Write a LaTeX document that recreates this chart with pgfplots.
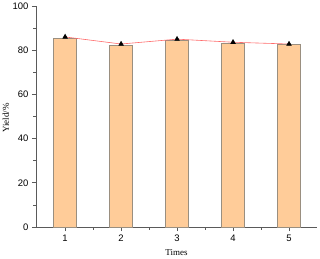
\documentclass[border=0pt]{standalone}
\usepackage{fontspec}
\setmainfont{Liberation Serif}
\setsansfont{Liberation Sans}
\usepackage{pgfplots}
\pgfplotsset{compat=1.18}
\definecolor{barfill}{HTML}{FFCC99}
\definecolor{baredge}{HTML}{9A8F80}
\definecolor{linered}{HTML}{FF6A6A}
\definecolor{spine}{HTML}{5A5A5A}
\begin{document}
\begin{tikzpicture}
\path[use as bounding box] (-36bp,-32bp) rectangle (284bp,227bp);
\begin{axis}[
  at={(0,0)}, anchor=south west,
  scale only axis, width=281bp, height=221bp,
  xmin=0.48, xmax=5.5, ymin=0, ymax=100,
  axis x line=bottom, axis y line=left,
  axis line style={-, spine, line width=1pt},
  xtick={1,2,3,4,5}, ytick={0,20,40,60,80,100},
  minor x tick num=1, minor y tick num=1,
  tick align=outside, major tick length=4bp, minor tick length=2.5bp,
  tick style={spine, line width=0.7pt},
  /pgf/number format/assume math mode=true,
  tick label style={font=\sffamily\fontsize{9.5}{10}\selectfont},
  xlabel={Times}, ylabel={Yield/\%},
  label style={font=\fontsize{9}{10}\selectfont},
  xlabel style={at={(axis description cs:0.5,-0.1176)}, anchor=center},
  ylabel style={at={(axis description cs:-0.107,0.493)}, anchor=center},
  clip=false,
]
\addplot[ybar, bar width=0.41, fill=barfill, draw=baredge, line width=0.8pt]
  coordinates {(1,85.5) (2,82.3) (3,84.5) (4,83.2) (5,82.5)};
\addplot[linered, line width=0.6pt, mark=triangle*, mark size=2.6bp, mark options={black, fill=black}]
  coordinates {(1,86.0) (2,82.8) (3,85.0) (4,83.6) (5,82.8)};
\end{axis}
\end{tikzpicture}
\end{document}
